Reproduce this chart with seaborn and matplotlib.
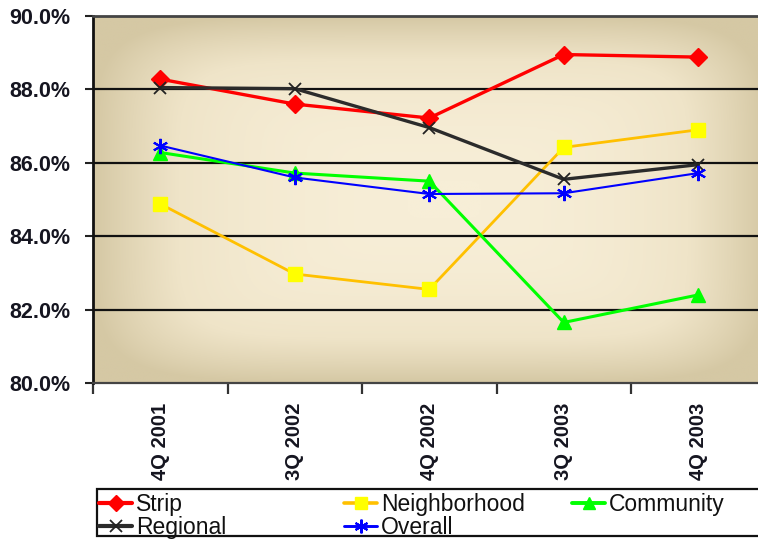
import numpy as np
import matplotlib
matplotlib.use("Agg")
import matplotlib.pyplot as plt
from matplotlib.lines import Line2D
from matplotlib.patches import Rectangle
from matplotlib.colors import LinearSegmentedColormap
import seaborn as sns

# Occupancy by center type, per survey quarter
quarters = ["4Q 2001", "3Q 2002", "4Q 2002", "3Q 2003", "4Q 2003"]
strip = [88.28, 87.60, 87.22, 88.95, 88.88]
neighborhood = [84.88, 82.97, 82.55, 86.42, 86.90]
community = [86.28, 85.72, 85.50, 81.65, 82.40]
regional = [88.05, 88.02, 86.96, 85.55, 85.95]
overall = [86.47, 85.60, 85.15, 85.17, 85.72]

series_names = ["Strip", "Neighborhood", "Community", "Regional", "Overall"]
series_values = [strip, neighborhood, community, regional, overall]

y_ticks = [80, 82, 84, 86, 88, 90]

sns.set_theme(style="white")
plt.rcParams["font.family"] = ["Liberation Sans", "DejaVu Sans"]

W, H = 758, 539
fig = plt.figure(figsize=(W / 100, H / 100), dpi=100)
fig.patch.set_facecolor("white")
ax = fig.add_axes([93 / W, 1 - 383 / H, 672.5 / W, 367 / H])

# Beige "from centre" gradient fill of the plot area
nx, ny = 400, 300
u = np.linspace(-1, 1, nx)[None, :]
v = np.linspace(-1, 1, ny)[:, None]
uc = (u - 0.05) / np.where(u - 0.05 < 0, 1.05, 0.95)
r = (np.abs(uc) ** 6 + np.abs(v) ** 6) ** (1 / 6)
t = np.clip(r, 0, 1) ** 2.5
cmap = LinearSegmentedColormap.from_list("beige", ["#f7eed7", "#efe4c8", "#d5c8a4"])
ax.imshow(t, cmap=cmap, vmin=0, vmax=1, extent=[-0.5, 4.5, 80, 90],
          aspect="auto", origin="lower", zorder=0, interpolation="bilinear")

styles = {
    "Strip": dict(color="#ff0000", marker="D", ms=9, mfc="#ff0000", mec="#ff0000", lw=2.4, mew=1),
    "Neighborhood": dict(color="#ffc000", marker="s", ms=10, mfc="#ffff00", mec="#ffff00", lw=2.0, mew=1),
    "Community": dict(color="#00ff00", marker="^", ms=10, mfc="#00ff00", mec="#00ff00", lw=2.2, mew=1),
    "Regional": dict(color="#2b2b2b", marker="x", ms=9, mfc="none", mec="#222222", lw=2.4, mew=1.3),
    "Overall": dict(color="#0000ff", marker=(6, 2, 0), ms=11, mfc="none", mec="#0000ff", lw=1.5, mew=1.5),
}

xpos = np.arange(len(quarters))
for name, vals in zip(series_names, series_values):
    st = styles[name]
    sns.lineplot(x=xpos, y=vals, ax=ax, color=st["color"], linewidth=st["lw"],
                 marker=st["marker"], markersize=st["ms"], markerfacecolor=st["mfc"],
                 markeredgecolor=st["mec"], markeredgewidth=st["mew"], zorder=3)

ax.set_xlim(-0.5, 4.5)
ax.set_ylim(80, 90)

# Horizontal gridlines
for yv in y_ticks[1:-1]:
    ax.axhline(yv, color="#111111", lw=1.6, zorder=1)

ax.set_yticks(y_ticks)
ax.set_yticklabels([f"{y:.1f}%" for y in y_ticks], fontsize=15.5, fontweight="bold", color="#151520")
ax.tick_params(axis="y", which="major", direction="out", length=6, width=1.5, color="#222222", pad=10, left=True)

ax.set_xticks(np.arange(-0.5, 5.0, 1.0))
ax.set_xticklabels([])
ax.tick_params(axis="x", which="major", direction="out", length=8, width=1.6, color="#333333", bottom=True)
ax.set_xticks(xpos, minor=True)
ax.set_xticklabels(quarters, minor=True, rotation=90, fontsize=14.5, fontweight="bold", color="#151520")
ax.tick_params(axis="x", which="minor", length=0, pad=14)
ax.set_xlabel("")
ax.set_ylabel("")

for side in ["left", "top", "right", "bottom"]:
    ax.spines[side].set_visible(True)
ax.spines["left"].set_color("#111111")
ax.spines["left"].set_linewidth(2.0)
ax.spines["top"].set_color("#444444")
ax.spines["top"].set_linewidth(2.0)
ax.spines["bottom"].set_color("#444444")
ax.spines["bottom"].set_linewidth(1.6)
ax.spines["right"].set_color("#444444")

# Legend: one framed box holding three columns of entries
handles = {}
for name in series_names:
    st = styles[name]
    handles[name] = Line2D([], [], color=st["color"], lw=st["lw"] + 0.6, marker=st["marker"],
                           ms=st["ms"] * 0.9, mfc=st["mfc"], mec=st["mec"], mew=st["mew"])

fig.patches.append(Rectangle((97 / W, 3 / H), 700 / W, 47 / H, transform=fig.transFigure,
                             facecolor="white", edgecolor="#111111", lw=1.6, zorder=0))
columns = [(["Strip", "Regional"], 99), (["Neighborhood", "Overall"], 344), (["Community"], 572)]
for names, x0 in columns:
    leg = fig.legend([handles[n] for n in names], names, ncol=1, loc="upper left",
                     bbox_to_anchor=(x0 / W, 1 - 493 / H), fontsize=16.5,
                     handlelength=1.45, handletextpad=0.15, labelspacing=0.0,
                     borderpad=0.0, borderaxespad=0, frameon=False)
    for txt in leg.get_texts():
        txt.set_color("#111111")

fig.savefig("out.png", dpi=100, facecolor="white")
